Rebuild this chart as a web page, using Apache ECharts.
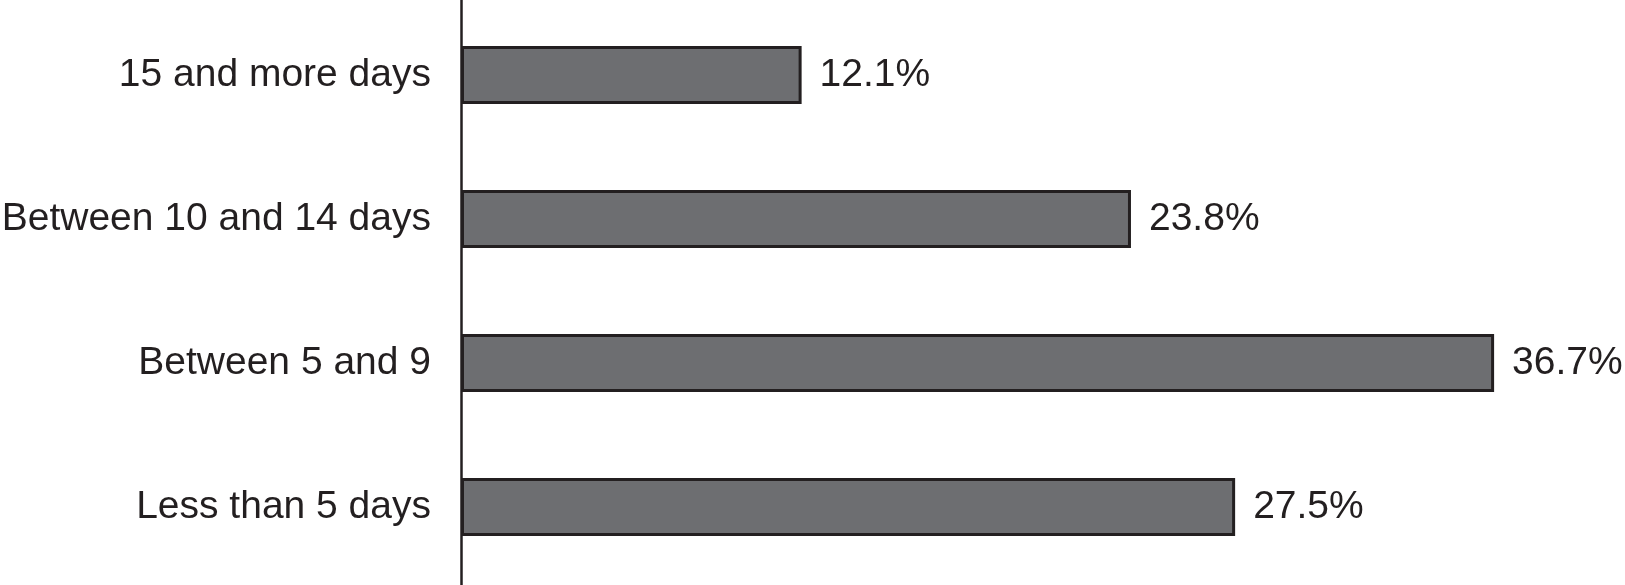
<!DOCTYPE html>
<html>
<head>
<meta charset="utf-8">
<script src="https://cdn.jsdelivr.net/npm/echarts@6/dist/echarts.min.js"></script>
<style>
    html, body { margin: 0; padding: 0; background: #fff; }
    #chart { width: 1625px; height: 585px; }
</style>
</head>
<body>
<div id="chart"></div>
<script>
// categories listed bottom to top (category axis starts at the bottom)
var categories = ["Less than 5 days", "Between 5 and 9", "Between 10 and 14 days", "15 and more days"];
var values = [27.5, 36.7, 23.8, 12.1];

var chartDom = document.getElementById("chart");
var myChart = echarts.init(chartDom);
var option;

option = {
    animation: false,
    grid: [
        {
            left: 461,
            top: 3,
            width: 1126,
            height: 576,
            outerBoundsMode: "none",
        },
        // second grid only used to draw the axis line over the full height
        {
            left: 461,
            top: 0,
            width: 1126,
            height: 585,
            outerBoundsMode: "none",
        },
    ],
    xAxis: [
        { type: "value", min: 0, max: 40, show: false, gridIndex: 0 },
        { type: "value", min: 0, max: 40, show: false, gridIndex: 1 },
    ],
    yAxis: [
        {
            type: "category",
            data: categories,
            gridIndex: 0,
            axisLine: { show: false },
            axisTick: { show: false },
            axisLabel: {
                color: "#231f20",
                fontFamily: "Liberation Sans, Arial, sans-serif",
                fontSize: 39,
                margin: 30,
            },
        },
        {
            type: "value",
            gridIndex: 1,
            min: 0,
            max: 1,
            axisLine: {
                show: true,
                lineStyle: { color: "#231f20", width: 2.5 },
            },
            axisTick: { show: false },
            axisLabel: { show: false },
            splitLine: { show: false },
        },
    ],
    series: [
        {
            type: "bar",
            data: values,
            barWidth: 58,
            itemStyle: {
                color: "#6d6e71",
                borderColor: "#231f20",
                borderWidth: 3,
            },
            label: {
                show: true,
                position: "right",
                distance: 18,
                formatter: "{c}%",
                color: "#231f20",
                fontFamily: "Liberation Sans, Arial, sans-serif",
                fontSize: 39,
            },
        },
    ],
};

option && myChart.setOption(option);
</script>
</body>
</html>
